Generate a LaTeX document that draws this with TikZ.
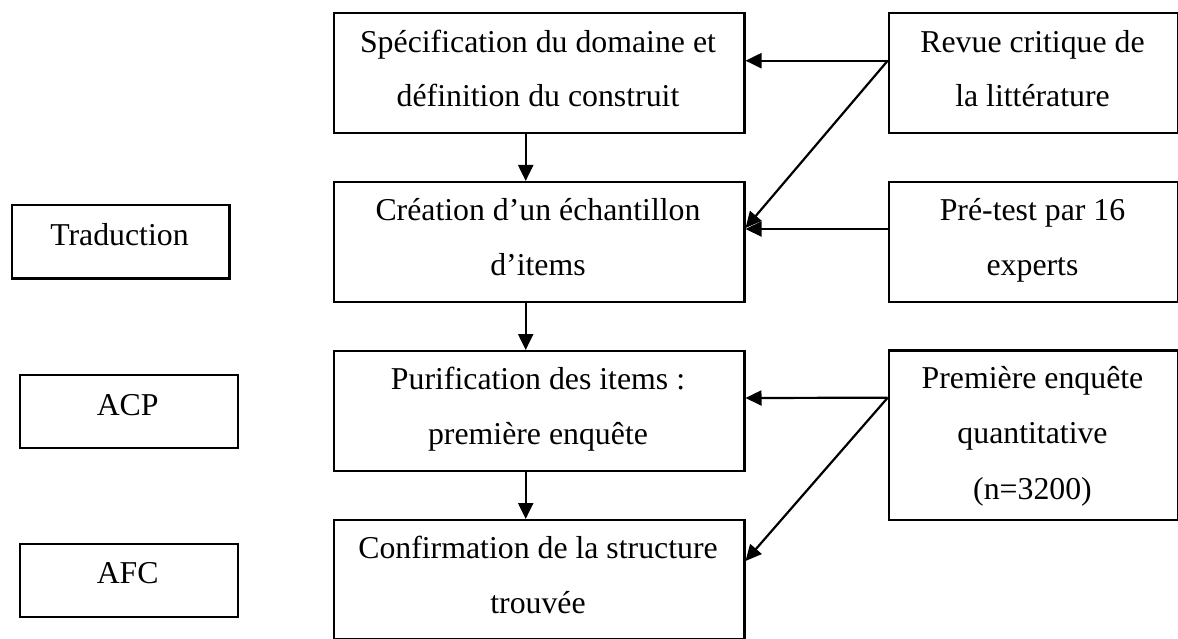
\documentclass[tikz,border=0pt]{standalone}
\usepackage{fontspec}
\setmainfont{Liberation Serif}
\usetikzlibrary{arrows.meta}
\tikzset{
  box/.style={draw, line width=2.2pt, inner sep=0pt, anchor=north west},
  txt/.style={inner sep=0pt, anchor=base, font=\fontsize{31.8}{55}\selectfont},
  arr/.style={line width=2.2pt, -{Triangle[length=16pt,width=15pt]}}
}
\begin{document}
\begin{tikzpicture}[x=1pt,y=-1pt]
\useasboundingbox (0,0) rectangle (1178,639);
% main column
\node[box, minimum width=410.6pt, minimum height=120pt] (A) at (332.7,12.3) {};
\node[box, minimum width=410.6pt, minimum height=120pt] (B) at (332.7,181) {};
\node[box, minimum width=410.6pt, minimum height=120pt] (C) at (332.7,350) {};
\node[box, minimum width=410.6pt, minimum height=119pt] (D) at (332.7,519) {};
\node[txt] (A1) at (538,52.3) {Spécification du domaine et};
\node[txt] (A2) at (538,106.7) {définition du construit};
\node[txt] (B1) at (538,221) {Création d’un échantillon};
\node[txt] (B2) at (538,275.5) {d’items};
\node[txt] (C1) at (538,389) {Purification des items :};
\node[txt] (C2) at (538,444.5) {première enquête};
\node[txt] (D1) at (538,558.5) {Confirmation de la structure};
\node[txt] (D2) at (538,613.3) {trouvée};
% right column
\node[box, minimum width=289pt, minimum height=119.4pt] (R) at (887.7,12.3) {};
\node[box, minimum width=289pt, minimum height=120pt] (P) at (887.7,181) {};
\node[box, minimum width=289pt, minimum height=169.7pt] (Q) at (887.7,349.3) {};
\node[txt] (R1) at (1032.5,52.3) {Revue critique de};
\node[txt] (R2) at (1032.5,107) {la littérature};
\node[txt] (P1) at (1032.5,220.5) {Pré-test par 16};
\node[txt] (P2) at (1032.5,275.5) {experts};
\node[txt] (Q1) at (1032.5,388.5) {Première enquête};
\node[txt] (Q2) at (1032.5,443.5) {quantitative};
\node[txt] (Q3) at (1032.5,499.5) {(n=3200)};
% left column
\node[box, minimum width=217.6pt, minimum height=73pt] (T) at (10.7,204.3) {};
\node[box, minimum width=218pt, minimum height=73pt] (ACP) at (18.7,373.7) {};
\node[box, minimum width=218pt, minimum height=73pt] (AFC) at (18.7,542.7) {};
\node[txt] (T1) at (119.5,245) {Traduction};
\node[txt] (ACP1) at (127.7,415) {ACP};
\node[txt] (AFC1) at (127.7,583.5) {AFC};
% vertical arrows
\draw[arr] ([xshift=193pt]A.south west) -- ([xshift=193pt]B.north west);
\draw[arr] ([xshift=193pt]B.south west) -- ([xshift=193pt]C.north west);
\draw[arr] ([xshift=193pt]C.south west) -- ([xshift=193pt]D.north west);
% horizontal and diagonal arrows
\draw[arr] ([yshift=-48.4pt]R.north west) -- ([yshift=-48.4pt]A.north east);
\draw[arr] ([yshift=-48.4pt]R.north west) -- ([yshift=-47pt]B.north east);
\draw[arr] ([yshift=-48pt]P.north west) -- ([yshift=-48pt]B.north east);
\draw[arr] ([yshift=-48.4pt]Q.north west) -- ([yshift=-48pt]C.north east);
\draw[arr] ([yshift=-48.4pt]Q.north west) -- ([yshift=-42pt]D.north east);
\end{tikzpicture}
\end{document}
